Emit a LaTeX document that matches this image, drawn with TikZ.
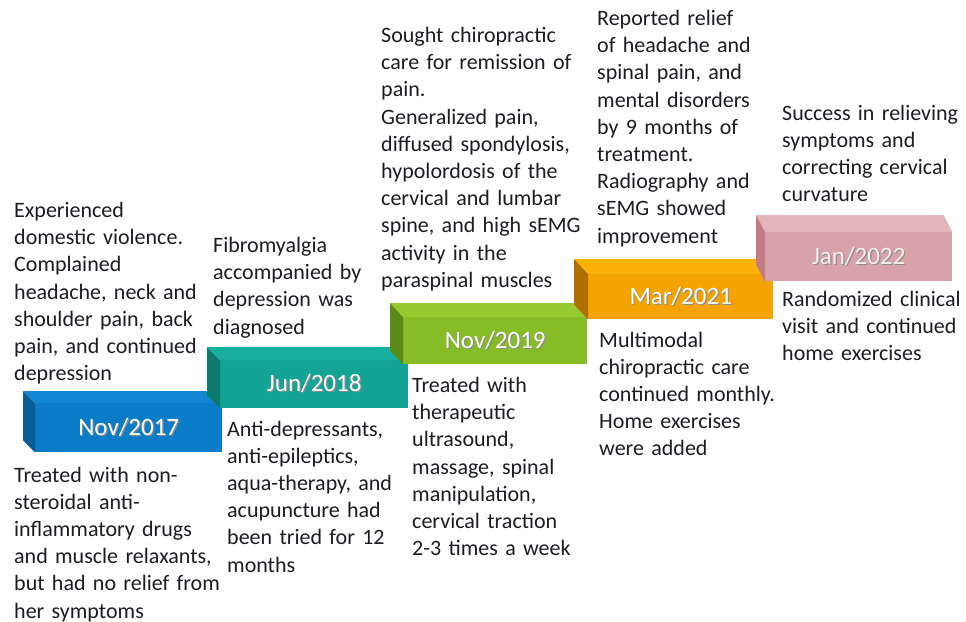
\documentclass[tikz,border=0pt]{standalone}
\usepackage{fontspec}
\setmainfont{Carlito}
\usetikzlibrary{calc}
\definecolor{txt}{RGB}{28,28,34}
\definecolor{bluef}{HTML}{0A7CC8}\definecolor{bluet}{HTML}{1386D1}\definecolor{blues}{HTML}{0A5C94}
\definecolor{tealf}{HTML}{13A496}\definecolor{tealt}{HTML}{18AFA1}\definecolor{teals}{HTML}{0D7A70}
\definecolor{greenf}{HTML}{86BC26}\definecolor{greent}{HTML}{96CB30}\definecolor{greens}{HTML}{5C8A16}
\definecolor{orangef}{HTML}{F4A300}\definecolor{oranget}{HTML}{FBB00A}\definecolor{oranges}{HTML}{B07000}
\definecolor{pinkf}{HTML}{D8A3A8}\definecolor{pinkt}{HTML}{E3B4B8}\definecolor{pinks}{HTML}{C27B83}
\newcommand\shtext[1]{\makebox[0pt][l]{\hspace{1.2pt}\raisebox{-1.2pt}{\color{black!45}#1}}#1}
\newcommand\boxfaces[5]{%
  \fill[#4] (#1.north west) -- (#1.north east) -- ++(#2,#3) -- ($(#1.north west)+(#2,#3)$) -- cycle;
  \fill[#5] (#1.north west) -- (#1.south west) -- ++(#2,#3) -- ($(#1.north west)+(#2,#3)$) -- cycle;}
\tikzset{
  desc/.style={anchor=base west, inner sep=0pt, text width=240pt, align=left,
    font=\fontsize{22}{27.2}\selectfont, text=txt},
  datebox/.style={rectangle, inner sep=0pt, anchor=north west,
    font=\fontsize{25}{30}\selectfont, text=white},
}
\begin{document}
\begin{tikzpicture}[x=1pt,y=-1pt]
\useasboundingbox (0,0) rectangle (966,621);
% boxes
\node[datebox, fill=bluef, minimum width=187pt, minimum height=49pt] (d1) at (35,403) {\shtext{Nov/2017}};
\boxfaces{d1}{-12}{-12}{bluet}{blues}
\node[datebox, fill=tealf, minimum width=188pt, minimum height=48pt] (d2) at (220,360) {\shtext{Jun/2018}};
\boxfaces{d2}{-13}{-13}{tealt}{teals}
\node[datebox, fill=greenf, minimum width=184pt, minimum height=47pt] (d3) at (403,317) {\shtext{Nov/2019}};
\boxfaces{d3}{-13}{-14}{greent}{greens}
\node[datebox, fill=orangef, minimum width=185pt, minimum height=45pt] (d4) at (588,274) {\shtext{Mar/2021}};
\boxfaces{d4}{-14}{-15}{oranget}{oranges}
\node[datebox, fill=pinkf, minimum width=187pt, minimum height=49pt, text={rgb,255:red,246;green,236;blue,236}] (d5) at (765,232) {\shtext{Jan/2022}};
\boxfaces{d5}{-9}{-17}{pinkt}{pinks}
% descriptions
\node[desc] (tA) at (14,217.5) {Experienced\\ domestic violence.\\ Complained\\ headache, neck and\\ shoulder pain, back\\ pain, and continued\\ depression};
\node[desc] (tB) at (14,482) {Treated with non-\\ steroidal anti-\\ inflammatory drugs\\ and muscle relaxants,\\ but had no relief from\\ her symptoms};
\node[desc] (tC) at (213,252.5) {Fibromyalgia\\ accompanied by\\ depression was\\ diagnosed};
\node[desc] (tD) at (227,436) {Anti-depressants,\\ anti-epileptics,\\ aqua-therapy, and\\ acupuncture had\\ been tried for 12\\ months};
\node[desc] (tE) at (381,42.5) {Sought chiropractic\\ care for remission of\\ pain.\\ Generalized pain,\\ diffused spondylosis,\\ hypolordosis of the\\ cervical and lumbar\\ spine, and high sEMG\\ activity in the\\ paraspinal muscles};
\node[desc] (tF) at (412,392.5) {Treated with\\ therapeutic\\ ultrasound,\\ massage, spinal\\ manipulation,\\ cervical traction\\ 2-3 times a week};
\node[desc] (tG) at (597,25.5) {Reported relief\\ of headache and\\ spinal pain, and\\ mental disorders\\ by 9 months of\\ treatment.\\ Radiography and\\ sEMG showed\\ improvement};
\node[desc] (tH) at (599,347) {Multimodal\\ chiropractic care\\ continued monthly.\\ Home exercises\\ were added};
\node[desc] (tI) at (782,120) {Success in relieving\\ symptoms and\\ correcting cervical\\ curvature};
\node[desc] (tJ) at (782,306) {Randomized clinical\\ visit and continued\\ home exercises};
\end{tikzpicture}
\end{document}
